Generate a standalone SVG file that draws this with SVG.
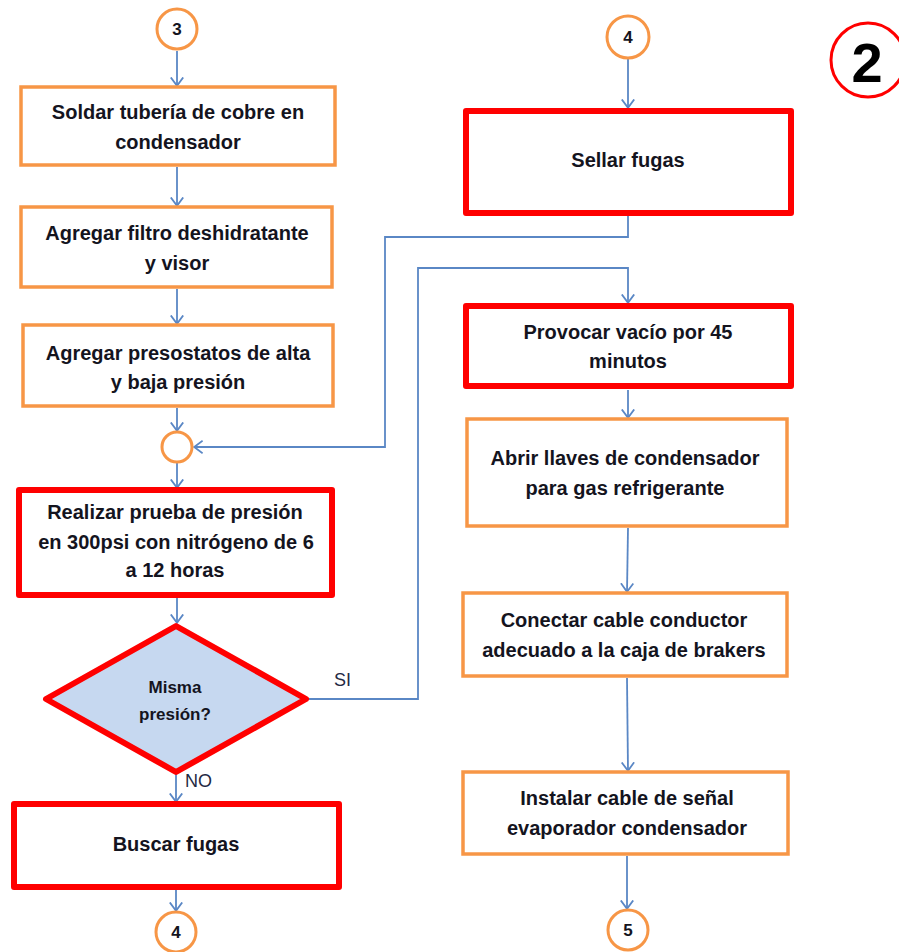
<svg xmlns="http://www.w3.org/2000/svg" width="899" height="952" viewBox="0 0 899 952">
  <defs>
    <marker id="arrow" viewBox="0 0 10 14" refX="9.4" refY="7" markerWidth="10" markerHeight="14" markerUnits="userSpaceOnUse" orient="auto">
      <path d="M0.8 0.8 L9.2 7 L0.8 13.2" fill="none" stroke="#5a87c5" stroke-width="1.8"/>
    </marker>
  </defs>
  <style>
    .orange { fill: #ffffff; stroke: #f79646; stroke-width: 3.5; }
    .red { fill: #ffffff; stroke: #ff0000; stroke-width: 6; stroke-linejoin: round; }
    .conn { fill: #ffffff; stroke: #f79646; stroke-width: 3; }
    .decision { fill: #c6d8f0; stroke: #ff0000; stroke-width: 6; stroke-linejoin: round; }
    .t { font-family: "Liberation Sans", Arial, sans-serif; font-weight: bold; font-size: 20px; fill: #14141e; text-anchor: middle; }
    .small { font-size: 17px; }
    .lbl { font-family: "Liberation Sans", Arial, sans-serif; font-size: 18px; fill: #1f2a44; }
    .edge { fill: none; stroke: #5a87c5; stroke-width: 1.8; }
  </style>

  <!-- page marker -->
  <g id="page-2">
    <circle cx="868" cy="60" r="37" fill="#ffffff" stroke="#ff0000" stroke-width="3"/>
    <text x="867" y="82" font-family="Liberation Sans, Arial, sans-serif" font-weight="bold" font-size="56" fill="#000000" text-anchor="middle">2</text>
  </g>

  <!-- connectors -->
  <g id="connectors">
    <line class="edge" x1="177" y1="51" x2="177" y2="86" marker-end="url(#arrow)"/>
    <line class="edge" x1="177" y1="167" x2="177" y2="206" marker-end="url(#arrow)"/>
    <line class="edge" x1="177" y1="289" x2="177" y2="324" marker-end="url(#arrow)"/>
    <line class="edge" x1="177" y1="408" x2="177" y2="431" marker-end="url(#arrow)"/>
    <line class="edge" x1="177" y1="463" x2="177" y2="488" marker-end="url(#arrow)"/>
    <line class="edge" x1="177" y1="598" x2="177" y2="623" marker-end="url(#arrow)"/>
    <line class="edge" x1="176" y1="774" x2="176" y2="802" marker-end="url(#arrow)"/>
    <line class="edge" x1="176" y1="890" x2="176" y2="911" marker-end="url(#arrow)"/>
    <line class="edge" x1="628" y1="59" x2="628" y2="108" marker-end="url(#arrow)"/>
    <polyline class="edge" points="628,207 628,237 385,237 385,447 194,447" marker-end="url(#arrow)"/>
    <polyline class="edge" points="307,699 418,699 418,268 628,268 628,303" marker-end="url(#arrow)"/>
    <line class="edge" x1="628" y1="390" x2="628" y2="418" marker-end="url(#arrow)"/>
    <line class="edge" x1="628" y1="528" x2="627" y2="592" marker-end="url(#arrow)"/>
    <line class="edge" x1="627" y1="678" x2="628" y2="771" marker-end="url(#arrow)"/>
    <line class="edge" x1="627" y1="856" x2="627" y2="909" marker-end="url(#arrow)"/>
    <text class="lbl" x="334" y="686">SI</text>
    <text class="lbl" x="185" y="787">NO</text>
  </g>

  <!-- left column -->
  <g id="start-3">
    <circle class="conn" cx="177" cy="29" r="20"/>
    <text class="t small" x="177" y="35">3</text>
  </g>
  <g id="soldar">
    <rect class="orange" x="21" y="87" width="314" height="78"/>
    <text class="t" x="178" y="119">Soldar tubería de cobre en</text>
    <text class="t" x="178" y="149">condensador</text>
  </g>
  <g id="filtro">
    <rect class="orange" x="21" y="207" width="311" height="80"/>
    <text class="t" x="177" y="240">Agregar filtro deshidratante</text>
    <text class="t" x="177" y="270">y visor</text>
  </g>
  <g id="presostatos">
    <rect class="orange" x="23" y="325" width="310" height="81"/>
    <text class="t" x="178" y="360">Agregar presostatos de alta</text>
    <text class="t" x="178" y="389">y baja presión</text>
  </g>
  <g id="merge">
    <circle class="conn" cx="177" cy="447" r="15"/>
  </g>
  <g id="prueba">
    <rect class="red" x="19" y="490" width="313" height="105"/>
    <text class="t" x="175" y="519">Realizar prueba de presión</text>
    <text class="t" x="176" y="549">en 300psi con  nitrógeno de 6</text>
    <text class="t" x="175" y="577">a 12 horas</text>
  </g>
  <g id="decision">
    <polygon class="decision" points="176,626 306,699 176,772 46,699"/>
    <text class="t small" x="175" y="693">Misma</text>
    <text class="t small" x="175" y="720">presión?</text>
  </g>
  <g id="buscar">
    <rect class="red" x="14" y="804" width="325" height="83"/>
    <text class="t" x="176" y="851">Buscar fugas</text>
  </g>
  <g id="end-4">
    <circle class="conn" cx="176" cy="932" r="20"/>
    <text class="t small" x="176" y="938">4</text>
  </g>

  <!-- right column -->
  <g id="start-4">
    <circle class="conn" cx="628" cy="37" r="21"/>
    <text class="t small" x="628" y="43">4</text>
  </g>
  <g id="sellar">
    <rect class="red" x="466" y="111" width="325" height="102"/>
    <text class="t" x="628" y="167">Sellar fugas</text>
  </g>
  <g id="vacio">
    <rect class="red" x="466" y="306" width="325" height="80"/>
    <text class="t" x="628" y="339">Provocar vacío por  45</text>
    <text class="t" x="628" y="368">minutos</text>
  </g>
  <g id="llaves">
    <rect class="orange" x="467" y="419" width="320" height="107"/>
    <text class="t" x="625" y="465">Abrir llaves de condensador</text>
    <text class="t" x="625" y="495">para gas refrigerante</text>
  </g>
  <g id="cable-conductor">
    <rect class="orange" x="463" y="593" width="324" height="83"/>
    <text class="t" x="624" y="627">Conectar cable conductor</text>
    <text class="t" x="624" y="657">adecuado a la caja de brakers</text>
  </g>
  <g id="cable-senal">
    <rect class="orange" x="463" y="772" width="325" height="82"/>
    <text class="t" x="627" y="805">Instalar cable de señal</text>
    <text class="t" x="627" y="835">evaporador condensador</text>
  </g>
  <g id="end-5">
    <circle class="conn" cx="628" cy="930" r="20"/>
    <text class="t small" x="628" y="936">5</text>
  </g>
</svg>
